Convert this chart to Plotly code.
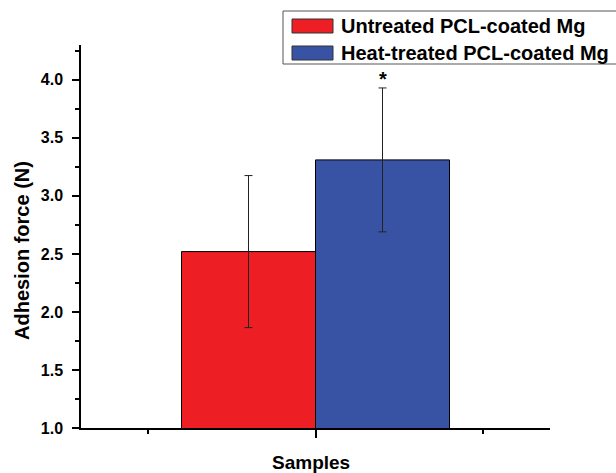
import plotly.graph_objects as go

# Sample groups and measured adhesion force (mean ± SD, N)
categories = ["Untreated PCL-coated Mg", "Heat-treated PCL-coated Mg"]
mean_force = [2.52, 3.31]
sd_force = [0.655, 0.62]
significance = ["", "*"]

colors = ["#ED1F25", "#3953A4"]
FONT = "Arial, 'Liberation Sans', sans-serif"

W, H = 616, 473
ML, MR, MT, MB = 81, 66, 45, 45
PW, PH = W - ML - MR, H - MT - MB

def px_x(x):
    return (x - ML) / PW

def px_y(y):
    return (H - MB - y) / PH

group_center = 1.0
bar_w = 0.4
positions = [group_center - bar_w / 2, group_center + bar_w / 2]

fig = go.Figure()
for name, x, m, e, c in zip(categories, positions, mean_force, sd_force, colors):
    fig.add_trace(go.Bar(
        x=[x], y=[m], width=bar_w, name=name,
        marker=dict(color=c, line=dict(color="black", width=1)),
        error_y=dict(type="data", array=[e], visible=True,
                     color="#222222", thickness=1, width=4),
        showlegend=False,
    ))

annotations = []
# significance marker above the error bar
for x, m, e, s in zip(positions, mean_force, sd_force, significance):
    if s:
        annotations.append(dict(
            x=x, y=m + e, xref="x", yref="y", text=s, showarrow=False,
            yanchor="bottom", yshift=-4,
            font=dict(family=FONT, size=20, color="black", weight="bold")))

# axis titles
annotations.append(dict(
    x=px_x(311), y=px_y(462), xref="paper", yref="paper", text="Samples",
    showarrow=False, xanchor="center", yanchor="middle",
    font=dict(family=FONT, size=19, color="black", weight="bold")))
annotations.append(dict(
    x=px_x(22), y=px_y(251), xref="paper", yref="paper",
    text="Adhesion force (N)", textangle=-90, showarrow=False,
    xanchor="center", yanchor="middle",
    font=dict(family=FONT, size=20, color="black", weight="bold")))

# legend box with wide swatches
shapes = [dict(type="rect", xref="paper", yref="paper",
               x0=px_x(283), x1=px_x(640), y0=px_y(64), y1=px_y(11),
               line=dict(color="#555555", width=1), fillcolor="white")]
row_centers = [26, 53]
for name, c, yc in zip(categories, colors, row_centers):
    shapes.append(dict(type="rect", xref="paper", yref="paper",
                       x0=px_x(292), x1=px_x(333),
                       y0=px_y(yc + 7), y1=px_y(yc - 7),
                       line=dict(color="#333333", width=1), fillcolor=c))
    annotations.append(dict(
        x=px_x(339), y=px_y(yc), xref="paper", yref="paper", text=name,
        showarrow=False, xanchor="left", yanchor="middle",
        font=dict(family=FONT, size=20, color="black", weight="bold")))

fig.update_layout(
    width=W, height=H,
    margin=dict(l=ML, r=MR, t=MT, b=MB),
    plot_bgcolor="white", paper_bgcolor="white",
    barmode="overlay",
    showlegend=False,
    shapes=shapes,
    annotations=annotations,
    xaxis=dict(
        range=[0.3, 1.7], showgrid=False, zeroline=False,
        showline=True, linecolor="black", linewidth=1.5,
        tickmode="array", tickvals=[group_center], showticklabels=False,
        ticks="outside", ticklen=8, tickwidth=1.5, tickcolor="black",
        minor=dict(tickmode="array", tickvals=[0.5, 1.5], ticks="outside",
                   ticklen=4, tickwidth=1.5, tickcolor="black", showgrid=False),
    ),
    yaxis=dict(
        range=[1.0, 4.3], showgrid=False, zeroline=False,
        showline=True, linecolor="black", linewidth=1.5,
        tick0=1.0, dtick=0.5, tickformat=".1f",
        ticks="outside", ticklen=7, tickwidth=1.5, tickcolor="black",
        ticklabelstandoff=6,
        tickfont=dict(family=FONT, size=16, color="black", weight="bold"),
        minor=dict(tick0=1.0, dtick=0.25, ticks="outside", ticklen=4,
                   tickwidth=1.5, tickcolor="black", showgrid=False),
    ),
)

fig.write_html("out.html")
